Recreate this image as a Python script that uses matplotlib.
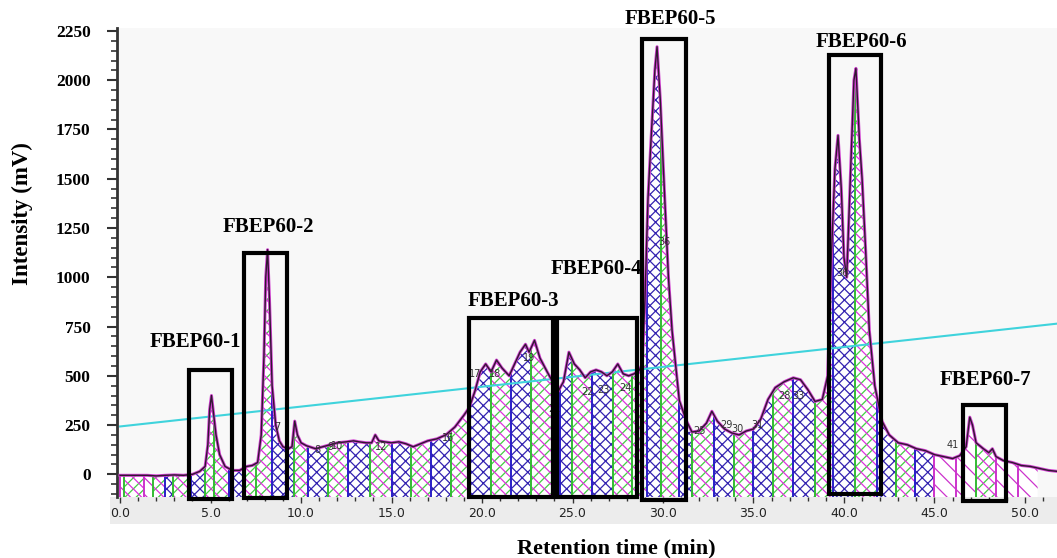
import numpy as np
import matplotlib.pyplot as plt
from matplotlib.patches import Rectangle
from matplotlib.ticker import MultipleLocator

# chromatogram trace (min, mV)
time = [0.0, 0.5, 1.0, 1.5, 2.0, 2.5, 3.0, 3.5, 4.0, 4.4, 4.7, 4.85, 4.95, 5.05, 5.15, 5.3, 5.5, 5.8,
        6.2, 6.6, 7.0, 7.3, 7.6, 7.8, 7.95, 8.05, 8.15, 8.25, 8.4, 8.6, 8.8, 9.0, 9.3, 9.5, 9.65, 9.8,
        10.0, 10.3, 10.8, 11.2, 11.6, 12.0, 12.5, 12.9, 13.2, 13.6, 13.9, 14.1, 14.3, 14.6, 15.0, 15.4,
        15.8, 16.2, 16.6, 17.0, 17.5, 18.0, 18.5, 19.0, 19.3, 19.6, 19.9, 20.2, 20.5, 20.8, 21.1, 21.5,
        21.8, 22.1, 22.4, 22.6, 22.9, 23.2, 23.6, 23.9, 24.2, 24.5, 24.8, 25.1, 25.4, 25.7, 26.0, 26.3,
        26.6, 26.9, 27.2, 27.5, 27.8, 28.1, 28.4, 28.7, 28.85, 29.0, 29.17, 29.34, 29.55, 29.67, 29.85,
        30.1, 30.3, 30.5, 30.9, 31.3, 31.6, 32.0, 32.4, 32.7, 33.0, 33.4, 33.8, 34.2, 34.6, 35.0, 35.4,
        35.8, 36.2, 36.7, 37.2, 37.6, 38.0, 38.4, 38.8, 39.1, 39.3, 39.5, 39.67, 39.85, 40.0, 40.15,
        40.35, 40.55, 40.66, 40.85, 41.0, 41.2, 41.4, 41.7, 42.1, 42.5, 43.0, 43.5, 44.0, 44.5, 45.0,
        45.5, 46.0, 46.4, 46.75, 46.95, 47.1, 47.3, 47.7, 48.0, 48.2, 48.4, 48.8, 49.3, 49.8, 50.3,
        50.8, 51.3, 51.8]
signal = [-5, -5, -5, -5, -8, -5, -3, -5, 0, 15, 40, 150, 330, 400, 320, 200, 100, 40,
          20, 20, 40, 45, 60, 200, 600, 1000, 1140, 900, 450, 250, 170, 140, 130, 140, 270, 200,
          160, 145, 130, 140, 150, 160, 165, 170, 165, 160, 160, 200, 170, 165, 160, 165,
          155, 140, 155, 170, 180, 200, 240, 300, 340, 420, 520, 560, 520, 580, 540, 500,
          560, 620, 660, 620, 680, 590, 520, 470, 420, 470, 620, 560, 530, 490, 520, 530,
          520, 500, 520, 560, 510, 500, 510, 530, 560, 880, 1400, 1700, 2050, 2170, 1900,
          1390, 1000, 730, 375, 270, 215, 220, 260, 320, 270, 230, 210, 200, 220, 230, 280,
          380, 440, 470, 490, 480, 430, 370, 380, 500, 1100, 1550, 1720, 1450, 1100, 1000,
          1500, 2000, 2060, 1700, 1500, 1130, 730, 450, 270, 200, 160, 150, 130, 120, 100,
          90, 80, 95, 140, 290, 250, 160, 130, 110, 130, 90, 70, 60, 45, 40,
          30, 20, 15]

# gradient (cyan) line
grad_time = [0.0, 51.8]
grad_mv = [243, 765]

# integration slices: cut points and hatch kind (b = blue cross, m = green/magenta cross, d = single diagonal)
cuts = [0.2, 1.3, 1.8, 2.5, 2.9, 3.9, 4.7, 5.2, 6.0, 6.8, 7.5, 8.4, 9.2, 9.6, 10.4, 11.5, 12.6, 13.8,
        15.0, 16.1, 17.2, 18.3, 19.3, 20.5, 21.6, 22.7, 24.3, 24.95, 26.05, 27.25, 28.3, 29.1, 29.9,
        30.9, 31.6, 32.8, 33.9, 35.0, 36.1, 37.2, 38.4, 39.4, 40.6, 41.8, 42.9, 43.9, 45.0, 46.2,
        47.3, 48.4, 49.6, 50.7, 51.8]
kinds = ["d", "m", "d", "m", "b", "m", "b", "m", "m", "b", "m", "m", "b", "b", "m", "b", "m",
         "b", "m", "b", "m", "b", "m", "b", "m", "b", "m", "b", "m", "b", "m", "m", "b",
         "m", "b", "m", "b", "m", "b", "m", "b", "m", "b", "m", "b", "m", "b", "d",
         "d", "m", "d", "d"]

# slice numbers that can be made out
num_text = ["7", "8", "9", "10", "12", "16", "17", "18", "19", "21", "22", "23", "24", "25", "29",
            "30", "31", "28", "33", "36", "36", "41"]
num_x = [8.7, 10.9, 11.6, 12.0, 14.4, 18.1, 19.6, 20.7, 22.6, 24.0, 25.8, 26.7, 27.9, 32.0, 33.5,
         34.1, 35.2, 36.7, 37.5, 30.1, 39.9, 46.0]
num_y = [240, 125, 140, 145, 140, 185, 510, 510, 590, 330, 420, 430, 440, 220, 250,
         230, 250, 400, 400, 1180, 1020, 150]

# fractions
fractions = ["FBEP60-1", "FBEP60-2", "FBEP60-3", "FBEP60-4", "FBEP60-5", "FBEP60-6", "FBEP60-7"]
box_x0 = [3.81, 6.85, 19.28, 24.14, 28.84, 39.17, 46.57]
box_x1 = [6.19, 9.23, 23.92, 28.56, 31.27, 42.04, 48.95]
box_y0 = [-125, -120, -115, -115, -130, -100, -137]
box_y1 = [531, 1123, 795, 795, 2207, 2126, 354]
lab_x = [4.14, 8.18, 21.71, 26.3, 30.39, 40.94, 47.8]
lab_y = [673, 1255, 880, 1042, 2313, 2196, 481]

fig = plt.figure(figsize=(10.57, 5.58), dpi=100)
fig.patches.append(Rectangle((110 / 1057, 1 - 524 / 558), 1, 27 / 558, transform=fig.transFigure,
                             facecolor="#ececec", edgecolor="none", zorder=-5))
ax = fig.add_axes([117 / 1057, 1 - 497 / 558, 940 / 1057, 469 / 558])
ax.set_facecolor("#f8f8f8")
ymin, ymax = -115, 2265
ax.set_xlim(-0.17, 51.77)
ax.set_ylim(ymin, ymax)

plt.rcParams["hatch.linewidth"] = 0.9
t = np.array(time)
v = np.array(signal)
edges = [0.0] + cuts
for i, kind in enumerate(kinds):
    a, b = edges[i], edges[i + 1]
    xs = np.concatenate([[a], t[(t > a) & (t < b)], [b]])
    ys = np.interp(xs, t, v)
    if kind == "b":
        ax.fill_between(xs, ymin, ys, facecolor="white", edgecolor="#3322b0", hatch="xxx", linewidth=0, zorder=2)
        lc = "#2a1ec8"
    elif kind == "m":
        ax.fill_between(xs, ymin, ys, facecolor="white", edgecolor="#44cc44", hatch="///", linewidth=0, zorder=2)
        ax.fill_between(xs, ymin, ys, facecolor="none", edgecolor="#dd33dd", hatch="\\\\\\", linewidth=0, zorder=2)
        lc = "#33bb33"
    else:
        ax.fill_between(xs, ymin, ys, facecolor="white", edgecolor="#cc33cc", hatch="\\\\", linewidth=0, zorder=2)
        lc = "#cc33cc"
    ax.vlines(a, ymin, np.interp(a, t, v), color=lc, lw=1.4, zorder=3)

ax.plot(grad_time, grad_mv, color="#3fd3dc", lw=1.5, zorder=4)
ax.plot(time, signal, color="#d040d0", lw=2.2, zorder=5)
ax.plot(time, signal, color="#301830", lw=1.0, zorder=6)

for s, x, y in zip(num_text, num_x, num_y):
    ax.text(x, y, s, fontsize=7, color="#333333", ha="center", va="center", zorder=7)

for name, x0, x1, y0, y1, lx, ly in zip(fractions, box_x0, box_x1, box_y0, box_y1, lab_x, lab_y):
    ax.add_patch(Rectangle((x0, y0), x1 - x0, y1 - y0, fill=False, edgecolor="black", lw=3,
                           clip_on=False, zorder=8))
    ax.text(lx, ly, name, family="Liberation Serif", fontweight="bold", fontsize=15,
            ha="center", va="center", clip_on=False, zorder=9)

for side in ["top", "right", "bottom"]:
    ax.spines[side].set_visible(False)
ax.spines["left"].set_color("#333333")
ax.spines["left"].set_linewidth(2)

ax.yaxis.set_minor_locator(MultipleLocator(50))
ax.set_yticks(range(0, 2251, 250))
ax.set_yticklabels([str(y) for y in range(0, 2251, 250)], family="Liberation Serif",
                   fontweight="bold", fontsize=12.5)
ax.tick_params(axis="y", which="major", length=7, width=1.5, color="#333333", pad=12)
ax.tick_params(axis="y", which="minor", length=4, width=1.2, color="#333333")

ax.xaxis.set_minor_locator(MultipleLocator(1))
ax.set_xticks(np.arange(0, 51, 5))
ax.set_xticklabels([f"{x:.1f}" for x in np.arange(0, 51, 5)], fontsize=9, color="#222222")
ax.tick_params(axis="x", which="major", length=4, width=1, color="#333333", pad=3)
ax.tick_params(axis="x", which="minor", length=3, width=1, color="#333333")

fig.text(22 / 1057, 1 - 214 / 558, "Intensity (mV)", rotation=90, family="Liberation Serif",
         fontweight="bold", fontsize=16.5, ha="center", va="center")
fig.text(616 / 1057, 1 - 548 / 558, "Retention time (min)", family="Liberation Serif",
         fontweight="bold", fontsize=16, ha="center", va="center")

fig.savefig("out.png", dpi=100)
